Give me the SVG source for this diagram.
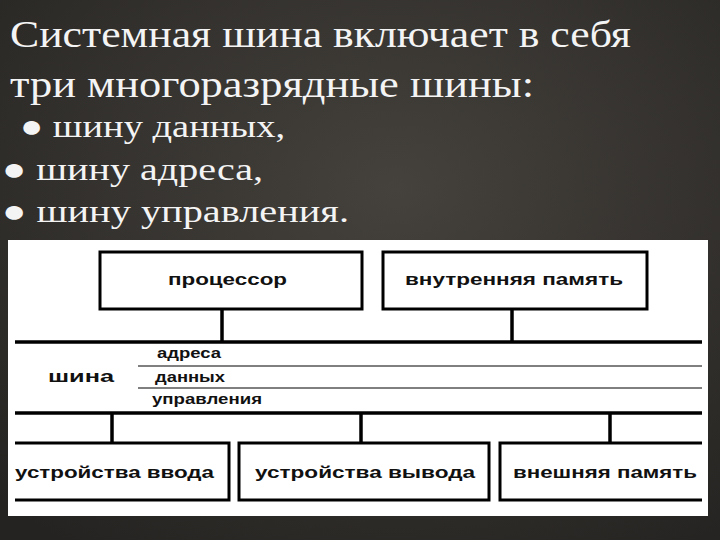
<svg xmlns="http://www.w3.org/2000/svg" width="720" height="540" viewBox="0 0 720 540">
<defs>
<radialGradient id="bg" cx="0.55" cy="0.35" r="0.8">
<stop offset="0" stop-color="#45423d"/>
<stop offset="1" stop-color="#252321"/>
</radialGradient>
<style>
.h{font-family:"Liberation Serif","DejaVu Serif",serif;fill:#f4f4f4}
.t{font-family:"Liberation Sans",Arial,sans-serif;font-weight:bold;fill:#111;font-size:16px}
.s{font-family:"Liberation Sans",Arial,sans-serif;font-weight:bold;fill:#111;font-size:14px}
.box{fill:none;stroke:#000;stroke-width:3}
.thick{stroke:#000;stroke-width:3.5;fill:none}
.thin{stroke:#000;stroke-width:1;fill:none}
</style>
</defs>
<rect width="720" height="540" fill="url(#bg)"/>
<text class="h" x="10" y="47" font-size="38" textLength="621" lengthAdjust="spacingAndGlyphs">Системная шина включает в себя</text>
<text class="h" x="10" y="97" font-size="38" textLength="524" lengthAdjust="spacingAndGlyphs">три многоразрядные шины:</text>
<text class="h" x="20" y="137" font-size="32" textLength="265" lengthAdjust="spacingAndGlyphs">● шину данных,</text>
<text class="h" x="2" y="180" font-size="32" textLength="261" lengthAdjust="spacingAndGlyphs">● шину адреса,</text>
<text class="h" x="2" y="222" font-size="32" textLength="347" lengthAdjust="spacingAndGlyphs">● шину управления.</text>
<rect x="8" y="240" width="700" height="276" fill="#fff"/>
<g id="connectors">
<line class="thick" x1="15" y1="342" x2="702" y2="342"/>
<line class="thin" x1="138" y1="366" x2="702" y2="366"/>
<line class="thin" x1="138" y1="388" x2="702" y2="388"/>
<line class="thick" x1="15" y1="413" x2="702" y2="413"/>
<line class="thick" x1="222" y1="309" x2="222" y2="342"/>
<line class="thick" x1="512" y1="309" x2="512" y2="342"/>
<line class="thick" x1="112" y1="413" x2="112" y2="443"/>
<line class="thick" x1="361" y1="413" x2="361" y2="443"/>
<line class="thick" x1="610" y1="413" x2="610" y2="443"/>
</g>
<g id="bus">
<text class="t" x="48" y="382" font-size="20" textLength="66" lengthAdjust="spacingAndGlyphs">шина</text>
<text class="s" x="157" y="358" textLength="64" lengthAdjust="spacingAndGlyphs">адреса</text>
<text class="s" x="155" y="382" textLength="70" lengthAdjust="spacingAndGlyphs">данных</text>
<text class="s" x="152" y="404" textLength="110" lengthAdjust="spacingAndGlyphs">управления</text>
</g>
<g id="processor">
<rect class="box" x="100" y="252" width="262" height="57"/>
<text class="t" x="168" y="285" textLength="119" lengthAdjust="spacingAndGlyphs">процессор</text>
</g>
<g id="memory">
<rect class="box" x="383" y="252" width="264" height="57"/>
<text class="t" x="405" y="285" textLength="218" lengthAdjust="spacingAndGlyphs">внутренняя память</text>
</g>
<g id="input">
<path class="box" d="M15 443 H229 V500 H15"/>
<text class="t" x="15" y="478" textLength="199" lengthAdjust="spacingAndGlyphs">устройства ввода</text>
</g>
<g id="output">
<rect class="box" x="239" y="443" width="250" height="57"/>
<text class="t" x="255" y="478" textLength="220" lengthAdjust="spacingAndGlyphs">устройства вывода</text>
</g>
<g id="external">
<path class="box" d="M702 443 H500 V500 H702"/>
<text class="t" x="513" y="478" textLength="184" lengthAdjust="spacingAndGlyphs">внешняя память</text>
</g>
</svg>
